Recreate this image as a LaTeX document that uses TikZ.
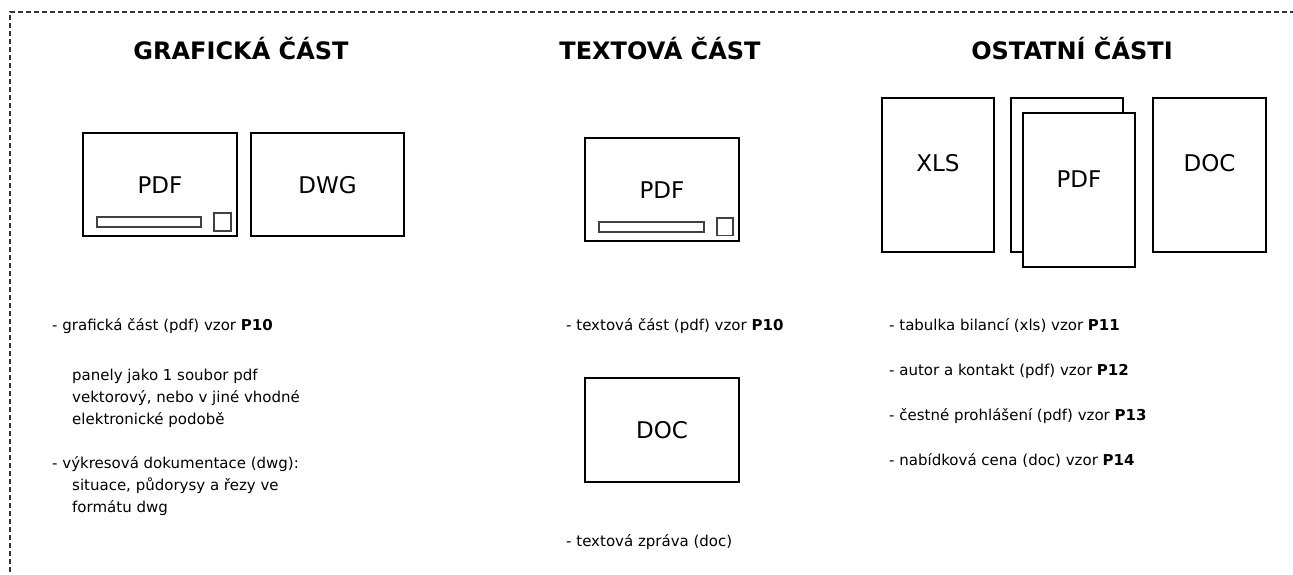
\documentclass[tikz,border=0pt]{standalone}
\usepackage{fontspec}
\setmainfont{DejaVu Sans}
\begin{document}
\begin{tikzpicture}[x=1pt,y=-1pt,
  box/.style={draw=black, line width=2pt, fill=white, inner sep=0pt},
  innerbar/.style={draw=black!75, line width=1.2pt},
  head/.style={font=\fontsize{24}{28}\selectfont\bfseries, inner sep=0pt, anchor=base},
  lbl/.style={font=\fontsize{23}{27}\selectfont, inner sep=0pt},
  txt/.style={font=\fontsize{15}{22}\selectfont, inner sep=0pt, anchor=base west},
  framedash/.style={draw=black!80, line width=1.1pt, dash pattern=on 5pt off 3pt}]
\useasboundingbox (0,0) rectangle (1293,574);
% frame
\coordinate (fa) at (10,12);
\coordinate (fb) at (1300,12);
\coordinate (fc) at (10,580);
\draw[framedash] (fc) -- (fa) -- (fb);
% headings
\node[head] (h1) at (241,59) {GRAFICKÁ ČÁST};
\node[head] (h2) at (660,59) {TEXTOVÁ ČÁST};
\node[head] (h3) at (1072,59) {OSTATNÍ ČÁSTI};
% graphic part
\node[box, minimum width=154pt, minimum height=103pt] (gpdf) at (160,184.5) {};
\node[lbl] (gpdfl) at (160,185) {PDF};
\draw[innerbar] (97,217) rectangle (201,227);
\draw[innerbar] (214,213) rectangle (231,231);
\node[box, minimum width=153pt, minimum height=103pt] (gdwg) at (327.5,184.5) {};
\node[lbl] (gdwgl) at (327.5,185) {DWG};
% text part
\node[box, minimum width=154pt, minimum height=103pt] (tpdf) at (662,189.5) {};
\node[lbl] (tpdfl) at (662,190) {PDF};
\draw[innerbar] (599,222) rectangle (704,232);
\draw[innerbar] (717,218) rectangle (733,235.5);
\node[box, minimum width=154pt, minimum height=104pt] (tdoc) at (662,430) {};
\node[lbl] (tdocl) at (662,430.5) {DOC};
% other parts
\node[box, minimum width=112pt, minimum height=154pt] (oxls) at (938,175) {};
\node[lbl] (oxlsl) at (938,163) {XLS};
\node[box, minimum width=112pt, minimum height=154pt] (opdfb) at (1067,175) {};
\node[box, minimum width=112pt, minimum height=154pt] (opdf) at (1079,190) {};
\node[lbl] (opdfl) at (1079,179.5) {PDF};
\node[box, minimum width=113pt, minimum height=154pt] (odoc) at (1209.5,175) {};
\node[lbl] (odocl) at (1209.5,163) {DOC};
% texts left
\node[txt] (l1) at (52,330) {- grafická část (pdf) vzor \textbf{P10}};
\node[txt] (l2) at (72,380) {panely jako 1 soubor pdf};
\node[txt] (l3) at (72,402) {vektorový, nebo v jiné vhodné};
\node[txt] (l4) at (72,424) {elektronické podobě};
\node[txt] (l5) at (52,468) {- výkresová dokumentace (dwg):};
\node[txt] (l6) at (72,490) {situace, půdorysy a řezy ve};
\node[txt] (l7) at (72,512) {formátu dwg};
% texts middle
\node[txt] (m1) at (566,330) {- textová část (pdf) vzor \textbf{P10}};
\node[txt] (m2) at (566,546) {- textová zpráva (doc)};
% texts right
\node[txt] (r1) at (889,330) {- tabulka bilancí (xls) vzor \textbf{P11}};
\node[txt] (r2) at (889,375) {- autor a kontakt (pdf) vzor \textbf{P12}};
\node[txt] (r3) at (889,420) {- čestné prohlášení (pdf) vzor \textbf{P13}};
\node[txt] (r4) at (889,465) {- nabídková cena (doc) vzor \textbf{P14}};
\end{tikzpicture}
\end{document}
